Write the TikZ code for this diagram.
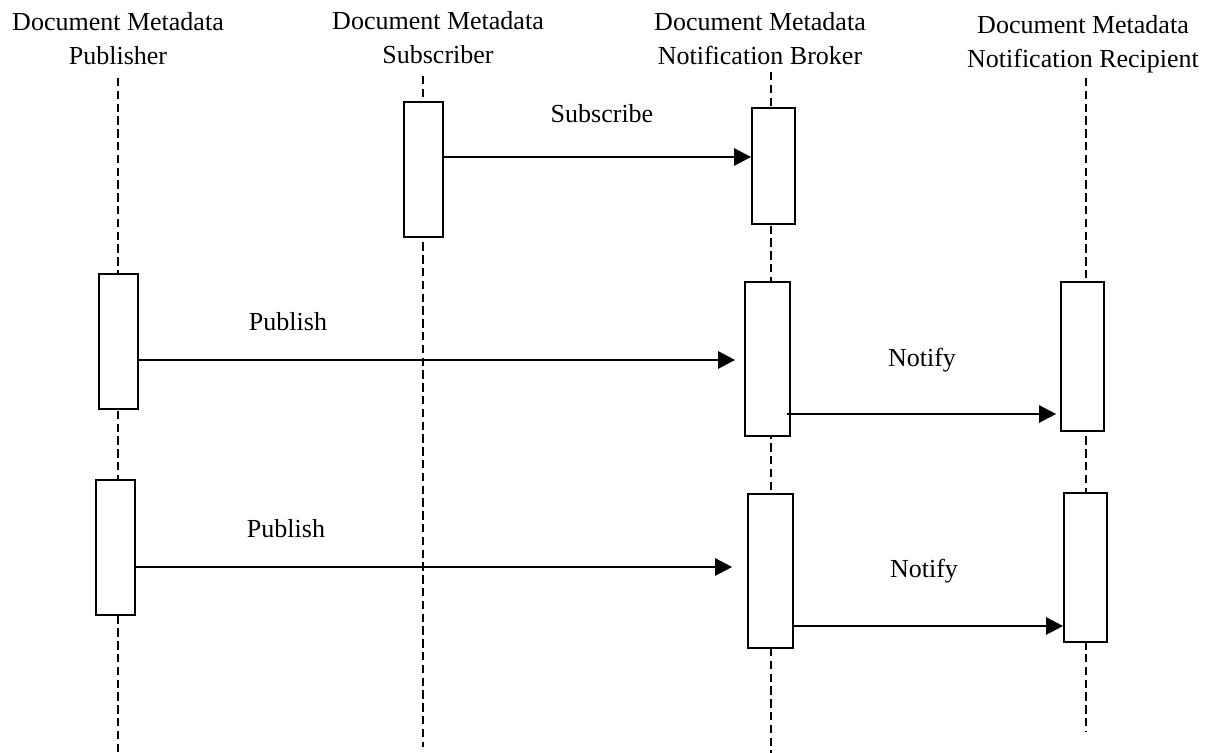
\documentclass[tikz,border=0pt]{standalone}
\usepackage{fontspec}
\setmainfont{Liberation Serif}
\usepackage{tikz}
\usetikzlibrary{arrows.meta}

\begin{document}
\begin{tikzpicture}[x=0.5pt, y=-0.5pt,
	head/.style={align=center, inner sep=0pt, anchor=north, font=\fontsize{13}{17}\selectfont},
	lbl/.style={inner sep=0pt, anchor=base, font=\fontsize{13}{17}\selectfont},
	life/.style={line width=0.7pt, dash pattern=on 4.2pt off 2.2pt},
	act/.style={fill=white, draw=black, line width=0.85pt, inner sep=0pt},
	msg/.style={line width=1.3pt, -{Triangle[length=8.5pt, width=8.5pt]}}]
	\useasboundingbox (0,0) rectangle (1212,753);

	% headers
	\node [head] (pubhead) at (118, 12) {Document Metadata\\Publisher};
	\node [head] (subhead) at (438, 11) {Document Metadata\\Subscriber};
	\node [head] (brkhead) at (760, 12) {Document Metadata\\Notification Broker};
	\node [head] (rcphead) at (1083, 15) {Document Metadata\\Notification Recipient};

	% lifelines
	\coordinate (pubtop) at (118, 78);
	\coordinate (pubbot) at (118, 752);
	\coordinate (subtop) at (423, 76);
	\coordinate (subbot) at (423, 747);
	\coordinate (brktop) at (771, 72);
	\coordinate (brkbot) at (771, 753);
	\coordinate (rcptop) at (1086, 78);
	\coordinate (rcpbot) at (1086, 732);
	\draw [life] (pubtop) -- (pubbot);
	\draw [life] (subtop) -- (subbot);
	\draw [life] (brktop) -- (brkbot);
	\draw [life] (rcptop) -- (rcpbot);

	% activations
	\node [act, minimum width=19.5pt, minimum height=67.5pt] (sub1) at (423.5, 169.5) {};
	\node [act, minimum width=21.5pt, minimum height=58pt] (brk1) at (773.5, 166) {};
	\node [act, minimum width=19.5pt, minimum height=67.5pt] (pub1) at (118.5, 341.5) {};
	\node [act, minimum width=22.5pt, minimum height=77pt] (brk2) at (767.5, 359) {};
	\node [act, minimum width=21.5pt, minimum height=74.5pt] (rcp1) at (1082.5, 356.5) {};
	\node [act, minimum width=19.5pt, minimum height=67.5pt] (pub2) at (115.5, 547.5) {};
	\node [act, minimum width=22.5pt, minimum height=77pt] (brk3) at (770.5, 571) {};
	\node [act, minimum width=21.5pt, minimum height=74.5pt] (rcp2) at (1085.5, 567.5) {};

	% messages
	\draw [msg] (sub1.east |- 0,157) -- (brk1.west |- 0,157);
	\draw [msg, shorten >=4.5pt] (pub1.east |- 0,360) -- (brk2.west |- 0,360);
	\draw [msg, shorten <=-2pt, shorten >=2pt] (brk2.east |- 0,414) -- (rcp1.west |- 0,414);
	\draw [msg, shorten >=7.5pt] (pub2.east |- 0,567) -- (brk3.west |- 0,567);
	\draw [msg] (brk3.east |- 0,626) -- (rcp2.west |- 0,626);

	% labels
	\node [lbl] (subscribe) at (602, 123) {Subscribe};
	\node [lbl] (publish1) at (288, 331) {Publish};
	\node [lbl] (notify1) at (922, 367) {Notify};
	\node [lbl] (publish2) at (286, 538) {Publish};
	\node [lbl] (notify2) at (924, 578) {Notify};
\end{tikzpicture}
\end{document}
